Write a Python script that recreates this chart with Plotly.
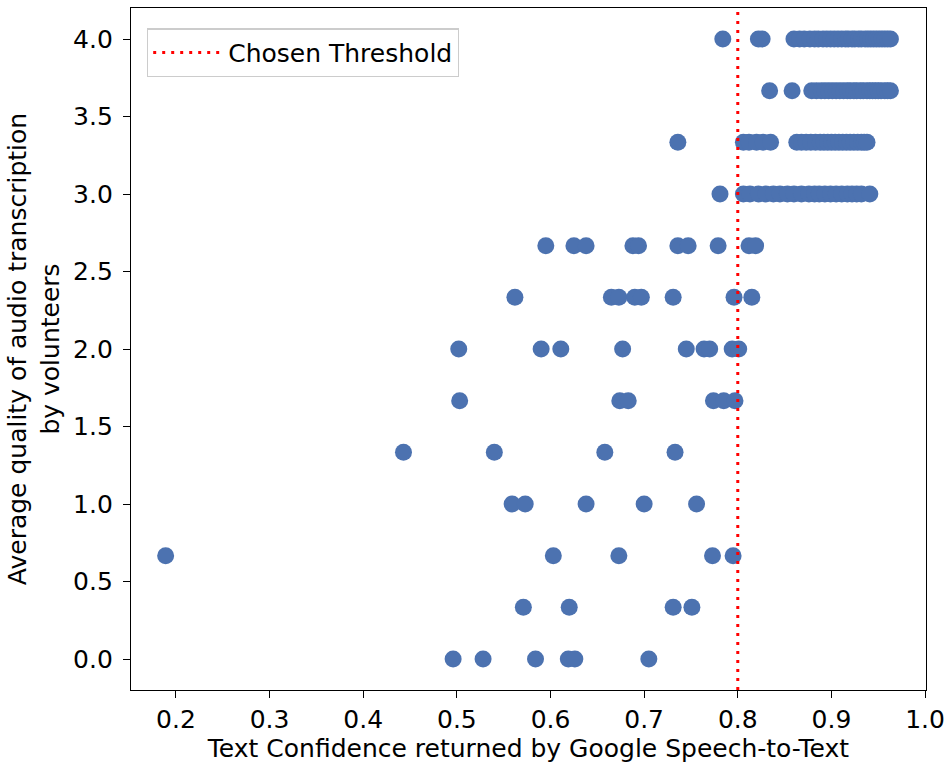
import plotly.graph_objects as go

# ---- data ----
threshold = 0.8
threshold_label = "Chosen Threshold"

quality_levels = [0.0, 0.3333, 0.6667, 1.0, 1.3333, 1.6667, 2.0, 2.3333,
                  2.6667, 3.0, 3.3333, 3.6667, 4.0]

conf_q00 = [0.496, 0.528, 0.584, 0.619, 0.626, 0.705]
conf_q03 = [0.571, 0.620, 0.731, 0.751]
conf_q07 = [0.189, 0.603, 0.673, 0.773, 0.795]
conf_q10 = [0.559, 0.573, 0.638, 0.700, 0.756]
conf_q13 = [0.443, 0.540, 0.658, 0.733]
conf_q17 = [0.503, 0.674, 0.683, 0.774, 0.785, 0.797]
conf_q20 = [0.502, 0.590, 0.611, 0.677, 0.745, 0.764, 0.770, 0.794, 0.801]
conf_q23 = [0.562, 0.665, 0.673, 0.690, 0.697, 0.731, 0.796, 0.815]
conf_q27 = [0.595, 0.625, 0.638, 0.688, 0.694, 0.736, 0.747, 0.779, 0.812, 0.819]
conf_q30 = [0.781, 0.806, 0.813, 0.822, 0.830, 0.838, 0.845, 0.853, 0.860,
            0.868, 0.876, 0.882, 0.887, 0.893, 0.899, 0.905, 0.911, 0.917,
            0.922, 0.927, 0.932, 0.941]
conf_q33 = [0.736, 0.806, 0.812, 0.820, 0.827, 0.835, 0.863, 0.868, 0.873,
            0.878, 0.883, 0.888, 0.892, 0.896, 0.900, 0.904, 0.908, 0.912,
            0.916, 0.920, 0.924, 0.928, 0.932, 0.935, 0.938]
conf_q37 = [0.834, 0.858, 0.879, 0.884, 0.889, 0.893, 0.897, 0.901, 0.905,
            0.909, 0.913, 0.917, 0.920, 0.924, 0.927, 0.931, 0.934, 0.938,
            0.941, 0.944, 0.947, 0.950, 0.953, 0.957, 0.960, 0.963]
conf_q40 = [0.784, 0.822, 0.826, 0.860, 0.866, 0.871, 0.877, 0.882, 0.886,
            0.891, 0.895, 0.899, 0.903, 0.907, 0.911, 0.915, 0.918, 0.922,
            0.925, 0.929, 0.932, 0.936, 0.939, 0.942, 0.945, 0.948, 0.951,
            0.954, 0.957, 0.960, 0.963]

x_ticks = [0.2, 0.3, 0.4, 0.5, 0.6, 0.7, 0.8, 0.9, 1.0]
y_ticks = [0.0, 0.5, 1.0, 1.5, 2.0, 2.5, 3.0, 3.5, 4.0]

x_title = "Text Confidence returned by Google Speech-to-Text"
y_title = "Average quality of audio transcription<br>by volunteers"

# ---- build point lists ----
rows = [conf_q00, conf_q03, conf_q07, conf_q10, conf_q13, conf_q17, conf_q20,
        conf_q23, conf_q27, conf_q30, conf_q33, conf_q37, conf_q40]
xs, ys = [], []
for level, confs in zip(quality_levels, rows):
    for c in confs:
        xs.append(c)
        ys.append(level)

x_range = [0.152, 1.001]
y_range = [-0.2, 4.2]

FONT = "DejaVu Sans"
FS = 25
BLUE = "#4c72b0"

fig = go.Figure()
fig.add_trace(go.Scatter(
    x=xs, y=ys, mode="markers", showlegend=False,
    marker=dict(size=17, color=BLUE, line=dict(width=0)),
))
fig.add_trace(go.Scatter(
    x=[threshold, threshold], y=y_range, mode="lines", name=threshold_label,
    line=dict(color="red", width=3, dash="3px,6px"),
))

axis_common = dict(
    showline=True, mirror=True, linecolor="black", linewidth=1.3,
    ticks="outside", ticklen=7, tickwidth=1.3, tickcolor="black",
    showgrid=False, zeroline=False,
    tickfont=dict(family=FONT, size=FS, color="black"),
)

fig.update_layout(
    width=952, height=767,
    margin=dict(l=131, r=21, t=7, b=77),
    paper_bgcolor="white", plot_bgcolor="white",
    font=dict(family=FONT, size=FS, color="black"),
    xaxis=dict(range=x_range, tickvals=x_ticks,
               ticktext=[f"{v:.1f}" for v in x_ticks],
               title=dict(text=x_title, font=dict(family=FONT, size=FS), standoff=6),
               **axis_common),
    yaxis=dict(range=y_range, tickvals=y_ticks,
               ticktext=[f"{v:.1f}" for v in y_ticks],
               ticklabelstandoff=5,
               title=dict(text=y_title, font=dict(family=FONT, size=FS), standoff=6),
               **axis_common),
    legend=dict(x=0.02, y=0.97, xanchor="left", yanchor="top",
                bgcolor="rgba(255,255,255,0.85)", bordercolor="#cccccc",
                borderwidth=1.3, font=dict(family=FONT, size=FS),
                itemwidth=70),
)

fig.write_html("out.html")
